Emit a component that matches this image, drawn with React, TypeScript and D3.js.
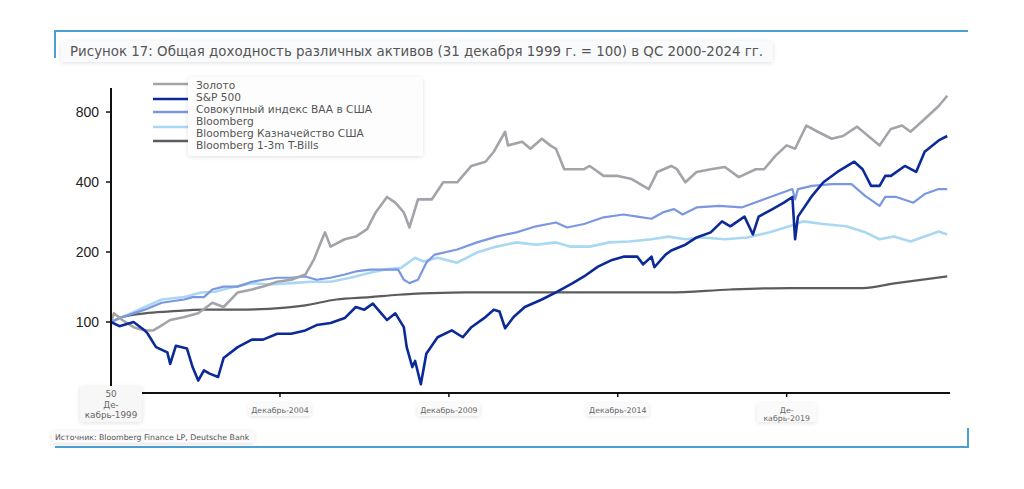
import * as d3 from 'd3';
import { useEffect, useRef } from 'react';

// values, 31 Dec 1999 = 100
const gold: [string, number][] = [
  ['1999-12', 100], ['2000-01', 109], ['2000-04', 102], ['2000-08', 95], ['2000-12', 92], ['2001-03', 92],
  ['2001-05', 95], ['2001-09', 102], ['2002-02', 105], ['2002-07', 109], ['2002-12', 121], ['2003-04', 116],
  ['2003-09', 134], ['2004-02', 138], ['2004-06', 142], ['2004-11', 149], ['2005-04', 152], ['2005-09', 160],
  ['2005-12', 185], ['2006-04', 243], ['2006-06', 211], ['2006-11', 227], ['2007-03', 233], ['2007-07', 251],
  ['2007-10', 296], ['2008-02', 345], ['2008-05', 326], ['2008-08', 296], ['2008-10', 255], ['2009-01', 337],
  ['2009-06', 337], ['2009-10', 399], ['2010-03', 399], ['2010-08', 469], ['2011-01', 489], ['2011-04', 540],
  ['2011-08', 658], ['2011-09', 575], ['2012-02', 596], ['2012-05', 556], ['2012-09', 614], ['2012-12', 575],
  ['2013-02', 556], ['2013-05', 454], ['2013-08', 454], ['2013-12', 454], ['2014-02', 469], ['2014-07', 425],
  ['2014-12', 425], ['2015-05', 412], ['2015-11', 373], ['2016-02', 442], ['2016-07', 469], ['2016-09', 454],
  ['2016-12', 399], ['2017-04', 442], ['2017-09', 454], ['2018-02', 464], ['2018-07', 420], ['2019-01', 454],
  ['2019-04', 454], ['2019-08', 518], ['2019-12', 575], ['2020-03', 556], ['2020-07', 700], ['2020-11', 658],
  ['2021-04', 614], ['2021-08', 631], ['2022-01', 692], ['2022-05', 631], ['2022-09', 575], ['2023-01', 677],
  ['2023-05', 700], ['2023-08', 658], ['2024-01', 747], ['2024-06', 849], ['2024-09', 940],
];

const sp500: [string, number][] = [
  ['1999-12', 100], ['2000-03', 96], ['2000-08', 100], ['2000-12', 92], ['2001-01', 89], ['2001-04', 78],
  ['2001-08', 74], ['2001-09', 66], ['2001-11', 79], ['2002-03', 77], ['2002-05', 64], ['2002-07', 56],
  ['2002-09', 62], ['2002-11', 60], ['2003-02', 58], ['2003-04', 70], ['2003-09', 78], ['2004-02', 84],
  ['2004-06', 84], ['2004-11', 89], ['2005-04', 89], ['2005-09', 92], ['2006-01', 97], ['2006-06', 99],
  ['2006-11', 104], ['2007-03', 116], ['2007-06', 113], ['2007-09', 120], ['2007-12', 109], ['2008-02', 102],
  ['2008-05', 109], ['2008-08', 95], ['2008-09', 78], ['2008-11', 64], ['2008-12', 68], ['2009-02', 54],
  ['2009-04', 73], ['2009-08', 86], ['2010-01', 92], ['2010-05', 86], ['2010-08', 95], ['2011-01', 105],
  ['2011-04', 113], ['2011-06', 111], ['2011-08', 94], ['2011-11', 105], ['2012-03', 116], ['2012-09', 125],
  ['2013-02', 134], ['2013-08', 147], ['2013-12', 157], ['2014-05', 173], ['2014-10', 185], ['2015-02', 191],
  ['2015-07', 191], ['2015-09', 177], ['2015-12', 191], ['2016-01', 172], ['2016-05', 195], ['2016-07', 203],
  ['2016-12', 215], ['2017-04', 231], ['2017-09', 243], ['2018-01', 271], ['2018-04', 258], ['2018-09', 284],
  ['2018-12', 238], ['2019-02', 284], ['2019-07', 306], ['2019-11', 326], ['2020-02', 345], ['2020-03', 227],
  ['2020-04', 284], ['2020-09', 349], ['2021-01', 399], ['2021-06', 442], ['2021-12', 489], ['2022-03', 454],
  ['2022-06', 385], ['2022-09', 385], ['2022-11', 425], ['2023-01', 425], ['2023-06', 469], ['2023-10', 442],
  ['2024-01', 540], ['2024-06', 604], ['2024-09', 631],
];

const baa: [string, number][] = [
  ['1999-12', 100], ['2000-04', 105], ['2000-12', 113], ['2001-06', 121], ['2002-02', 125], ['2002-05', 128],
  ['2002-09', 128], ['2002-12', 138], ['2003-04', 142], ['2003-09', 142], ['2004-02', 149], ['2004-06', 152],
  ['2004-11', 155], ['2005-04', 155], ['2005-09', 157], ['2006-01', 152], ['2006-06', 155], ['2006-11', 160],
  ['2007-03', 165], ['2007-08', 168], ['2008-01', 168], ['2008-06', 168], ['2008-08', 152], ['2008-10', 147],
  ['2009-01', 152], ['2009-04', 180], ['2009-07', 195], ['2010-03', 205], ['2010-10', 220], ['2011-05', 233],
  ['2011-12', 243], ['2012-07', 258], ['2013-02', 268], ['2013-06', 255], ['2013-12', 264], ['2014-07', 282],
  ['2015-02', 290], ['2015-07', 284], ['2015-12', 278], ['2016-04', 296], ['2016-08', 306], ['2016-11', 290],
  ['2017-04', 311], ['2017-12', 316], ['2018-08', 311], ['2019-04', 337], ['2020-02', 373], ['2020-03', 337],
  ['2020-04', 373], ['2020-09', 385], ['2021-04', 392], ['2021-11', 392], ['2022-04', 348], ['2022-09', 316],
  ['2022-11', 345], ['2023-03', 345], ['2023-09', 326], ['2024-01', 355], ['2024-06', 373], ['2024-09', 373],
];

const treasury: [string, number][] = [
  ['1999-12', 100], ['2000-04', 105], ['2000-12', 116], ['2001-06', 125], ['2002-02', 128], ['2002-08', 134],
  ['2003-01', 135], ['2003-06', 140], ['2004-02', 147], ['2004-08', 145], ['2005-04', 147], ['2005-11', 149],
  ['2006-06', 149], ['2007-01', 155], ['2007-08', 163], ['2008-01', 168], ['2008-07', 171], ['2008-12', 189],
  ['2009-03', 182], ['2009-08', 189], ['2010-03', 180], ['2010-10', 199], ['2011-05', 211], ['2011-12', 220],
  ['2012-07', 215], ['2013-02', 220], ['2013-07', 211], ['2014-02', 211], ['2014-09', 220], ['2015-04', 222],
  ['2015-12', 227], ['2016-06', 233], ['2016-12', 227], ['2017-06', 231], ['2018-02', 227], ['2018-10', 231],
  ['2019-06', 243], ['2020-01', 258], ['2020-06', 271], ['2021-01', 264], ['2021-09', 258], ['2022-04', 243],
  ['2022-09', 227], ['2023-02', 233], ['2023-08', 222], ['2024-01', 233], ['2024-06', 245], ['2024-09', 238],
];

const tbills: [string, number][] = [
  ['1999-12', 100], ['2000-04', 105], ['2000-12', 109], ['2001-09', 111], ['2002-09', 113], ['2003-09', 113],
  ['2004-08', 114], ['2005-09', 118], ['2006-08', 125], ['2007-08', 128], ['2008-06', 131], ['2009-06', 133],
  ['2010-06', 134], ['2016-06', 134], ['2018-04', 138], ['2020-01', 140], ['2022-03', 140], ['2023-03', 147],
  ['2024-09', 157],
];

const seriesColors = ['#a3a4aa', '#0b2a97', '#7b97e0', '#aad8f2', '#5c5c60'];
const seriesWidths = [2.6, 2.6, 2.2, 2.6, 2.2];
const legendText = ['Золото', 'S&P 500', 'Совокупный индекс BAA в США', 'Bloomberg',
  'Bloomberg Казначейство США', 'Bloomberg 1-3m T-Bills'];

const yTicks = [100, 200, 400, 800];
const xTickYears = [2004, 2009, 2014, 2019];

const title = 'Рисунок 17: Общая доходность различных активов (31 декабря 1999 г. = 100) в QC 2000-2024 гг.';
const source = 'Источник: Bloomberg Finance LP, Deutsche Bank';

const App = () => {
  const svgRef = useRef(null);

  useEffect(() => {
    const width = 1024;
    const height = 489;
    const font = '"DejaVu Sans", Verdana, sans-serif';
    const numFont = '"Liberation Sans", Arial, sans-serif';
    const blue = '#4b9fd5';

    const svg = d3.select(svgRef.current).attr('width', width).attr('height', height);
    const parse = d3.timeParse('%Y-%m');

    const x = d3.scaleTime()
      .domain([new Date(1999, 11, 1), new Date(2024, 9, 1)])
      .range([111, 950]);
    const y = d3.scaleLog().domain([50, 1000]).range([392, 89.5]);

    const defs = svg.append('defs');
    const f = defs.append('filter').attr('id', 'sh').attr('x', '-10%').attr('y', '-50%')
      .attr('width', '120%').attr('height', '200%');
    f.append('feDropShadow').attr('dx', 0).attr('dy', 1).attr('stdDeviation', 2)
      .attr('flood-color', '#000').attr('flood-opacity', 0.12);

    // frame lines
    svg.append('path').attr('d', 'M55,58V31H968').attr('fill', 'none')
      .attr('stroke', blue).attr('stroke-width', 2);
    svg.append('path').attr('d', 'M55,447H968V428').attr('fill', 'none')
      .attr('stroke', blue).attr('stroke-width', 2);

    // title
    svg.append('rect').attr('x', 61).attr('y', 41).attr('width', 712).attr('height', 21)
      .attr('rx', 3).attr('fill', '#f9fafb').attr('filter', 'url(#sh)');
    svg.append('text').attr('x', 70).attr('y', 56).text(title)
      .attr('textLength', 693).attr('lengthAdjust', 'spacingAndGlyphs')
      .attr('font-family', font).attr('font-size', 13.6).attr('fill', '#555');

    // lines
    const all = [gold, sp500, baa, treasury, tbills];
    const line = d3.line<[string, number]>()
      .x((d) => x(parse(d[0])))
      .y((d) => y(d[1]));
    const order = [4, 3, 2, 0, 1];
    order.forEach((i) => {
      svg.append('path')
        .datum(all[i])
        .attr('d', i === 4 ? line.curve(d3.curveMonotoneX)(all[i]) : line.curve(d3.curveLinear)(all[i]))
        .attr('fill', 'none')
        .attr('stroke', seriesColors[i])
        .attr('stroke-width', seriesWidths[i])
        .attr('stroke-linejoin', 'round');
    });

    // y axis
    const yAxis = svg.append('g');
    yAxis.append('line').attr('x1', 111).attr('x2', 111).attr('y1', 88).attr('y2', 393)
      .attr('stroke', '#111').attr('stroke-width', 2);
    yTicks.forEach((t) => {
      yAxis.append('line').attr('x1', 106).attr('x2', 111).attr('y1', y(t)).attr('y2', y(t))
        .attr('stroke', '#111').attr('stroke-width', 1.5);
      yAxis.append('text').attr('x', 99).attr('y', y(t)).attr('dy', '0.35em')
        .attr('text-anchor', 'end').text(t)
        .attr('font-family', numFont).attr('font-size', 14).attr('fill', '#222');
    });

    // x axis
    const xAxis = svg.append('g');
    xAxis.append('line').attr('x1', 111).attr('x2', 950).attr('y1', 393).attr('y2', 393)
      .attr('stroke', '#111').attr('stroke-width', 2);
    xTickYears.forEach((yr) => {
      const px = x(new Date(yr, 11, 1));
      xAxis.append('line').attr('x1', px).attr('x2', px).attr('y1', 393).attr('y2', 397)
        .attr('stroke', '#111').attr('stroke-width', 1.5);
      const twoLines = yr === 2019;
      const bw = twoLines ? 59 : 62;
      const bh = twoLines ? 19 : 13;
      xAxis.append('rect').attr('x', px - bw / 2).attr('y', 403).attr('width', bw).attr('height', bh)
        .attr('rx', 2).attr('fill', '#fafafa').attr('filter', 'url(#sh)');
      const lbl = twoLines ? ['Де-', `кабрь-${yr}`] : [`Декабрь-${yr}`];
      lbl.forEach((s, k) => {
        xAxis.append('text').attr('x', px).attr('y', 412.5 + k * 8).attr('text-anchor', 'middle').text(s)
          .attr('font-family', font).attr('font-size', 7.8).attr('fill', '#666');
      });
    });

    // first tick box with the 50 label
    svg.append('rect').attr('x', 80).attr('y', 386).attr('width', 62).attr('height', 36)
      .attr('rx', 2).attr('fill', '#f7f7f7').attr('filter', 'url(#sh)');
    ['50', 'Де-', 'кабрь-1999'].forEach((s, k) => {
      svg.append('text').attr('x', 111).attr('y', 397 + k * 10.5).attr('text-anchor', 'middle').text(s)
        .attr('font-family', font).attr('font-size', 8.8).attr('fill', '#666');
    });

    // source
    svg.append('rect').attr('x', 52).attr('y', 431).attr('width', 202).attr('height', 12)
      .attr('rx', 2).attr('fill', '#fafafa').attr('filter', 'url(#sh)');
    svg.append('text').attr('x', 55).attr('y', 440).text(source)
      .attr('font-family', font).attr('font-size', 7.8).attr('fill', '#555');

    // legend
    const lg = svg.append('g');
    const lineY = [84, 99, 112, 127, 141];
    seriesColors.forEach((c, i) => {
      lg.append('line').attr('x1', 153).attr('x2', 190).attr('y1', lineY[i]).attr('y2', lineY[i])
        .attr('stroke', c).attr('stroke-width', 2.6);
    });
    lg.append('rect').attr('x', 188).attr('y', 77).attr('width', 235).attr('height', 79)
      .attr('rx', 4).attr('fill', '#fdfdfd').attr('filter', 'url(#sh)');
    legendText.forEach((s, k) => {
      lg.append('text').attr('x', 196).attr('y', 89 + k * 12).text(s)
        .attr('font-family', font).attr('font-size', 10.6).attr('fill', '#555');
    });

    return () => {
      svg.selectAll('*').remove();
    };
  }, []);

  return <svg ref={svgRef} style={{ position: 'absolute', left: 0, top: 0 }} />;
};

export default App;
